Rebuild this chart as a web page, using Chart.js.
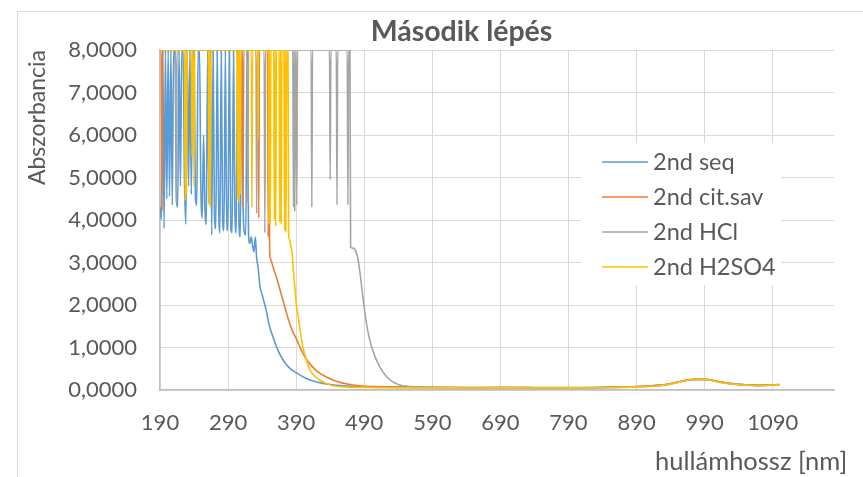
<!DOCTYPE html>
<html>
<head>
<meta charset="utf-8">
<title>Második lépés</title>
<script src="https://cdn.jsdelivr.net/npm/chart.js"></script>
<style>
  html, body { margin: 0; padding: 0; background: #fff; }
</style>
</head>
<body>
<canvas id="chart" width="863" height="477"></canvas>
<script>
// Második lépés - absorbance spectra
const chartTitle = 'Második lépés';
const xTitle = 'hullámhossz [nm]';
const yTitle = 'Abszorbancia';
const seriesNames = ['2nd seq', '2nd cit.sav', '2nd HCl', '2nd H2SO4'];
const seriesColors = ['#5B9BD5', '#ED7D31', '#A5A5A5', '#FFC000'];
const xTicks = [190, 290, 390, 490, 590, 690, 790, 890, 990, 1090];
const yTicks = [0, 1, 2, 3, 4, 5, 6, 7, 8];

// 2nd seq
const seqX = [190, 192, 194, 196, 198, 200, 202, 204, 206, 208, 210, 212, 214, 216, 218, 220, 222, 224, 226, 228,
  230, 232, 234, 236, 238, 240, 242, 244, 246, 248, 250, 252, 254, 256, 258, 260, 262, 264, 266, 268,
  270, 272, 274, 276, 278, 280, 282, 284, 286, 288, 290, 292, 294, 296, 298, 300, 302, 304, 306, 308,
  310, 312, 314, 316, 318, 320, 322, 324, 326, 328, 330,
  332, 334, 337, 340, 344, 347, 350, 356, 362, 371, 380, 391, 405, 420, 440, 470, 500, 550, 600, 650,
  700, 750, 800, 850, 900, 930, 950, 965, 980, 995, 1010, 1030, 1050, 1070, 1085, 1100];
const seqY = [4.3, 4.0, 8, 3.8, 8, 4.5, 8, 4.55, 8, 4.35, 8, 8, 4.65, 4.3, 8, 4.8, 8, 8, 4.9, 3.9,
  8, 4.8, 8, 4.6, 8, 8, 4.5, 4.35, 8, 8, 4.8, 4.05, 6.0, 4.3, 3.9, 8, 4.4, 8, 3.65, 8,
  4.1, 3.8, 8, 4.5, 3.7, 8, 4.0, 3.75, 8, 3.75, 4.3, 8, 3.8, 3.7, 8, 4.2, 3.7, 8, 3.9, 3.6,
  8, 4.4, 3.7, 3.65, 8, 3.7, 3.45, 3.6, 3.4, 3.25, 3.6,
  3.1, 2.9, 2.42, 2.25, 2.0, 1.8, 1.55, 1.25, 0.98, 0.7, 0.52, 0.4, 0.27, 0.19, 0.13, 0.09, 0.08, 0.07, 0.06, 0.06,
  0.06, 0.06, 0.06, 0.07, 0.09, 0.12, 0.18, 0.23, 0.25, 0.24, 0.2, 0.15, 0.12, 0.11, 0.12, 0.13];

// 2nd cit.sav
const citX = [190, 192, 193, 194, 250, 311, 312, 313, 334, 335, 336, 348, 349, 350, 351, 352, 355, 358, 362, 369,
  376, 383, 391, 398, 406, 420, 435, 450, 465, 490, 520, 560, 600, 650, 700, 750, 800, 850, 900, 930,
  950, 965, 980, 995, 1010, 1030, 1050, 1070, 1085, 1100];
const citY = [8, 8, 4.2, 8, 8, 8, 4.3, 8, 8, 4.05, 8, 8, 3.6, 8, 3.3, 3.1, 2.95, 2.8, 2.6, 2.2,
  1.8, 1.45, 1.18, 0.92, 0.7, 0.45, 0.3, 0.2, 0.14, 0.09, 0.07, 0.06, 0.06, 0.05, 0.06, 0.05, 0.05, 0.06, 0.09, 0.12,
  0.19, 0.24, 0.26, 0.25, 0.2, 0.15, 0.12, 0.11, 0.12, 0.13];

// 2nd HCl
const hclX = [190, 213, 214, 215, 318, 319, 320, 331, 332, 333, 343, 344, 345, 385, 386, 387, 388, 389, 390, 391,
  392, 412, 413, 414, 439, 440, 441, 449, 450, 451, 465, 466, 467, 469, 470, 473, 478, 481, 485, 488,
  492, 498, 506, 513, 522, 532, 542, 553, 580, 620, 660, 700, 750, 800, 850, 900, 930, 950, 965, 980,
  995, 1010, 1030, 1050, 1070, 1085, 1100];
const hclY = [8, 8, 4.4, 8, 8, 4.4, 8, 8, 4.15, 8, 8, 3.7, 8, 8, 4.3, 8, 4.2, 8, 8, 4.35,
  8, 8, 4.3, 8, 8, 4.95, 8, 8, 4.35, 8, 8, 4.35, 8, 8, 3.36, 3.34, 3.25, 3.06, 2.6, 2.19,
  1.7, 1.18, 0.78, 0.54, 0.33, 0.19, 0.12, 0.09, 0.07, 0.06, 0.06, 0.06, 0.05, 0.05, 0.06, 0.08, 0.11, 0.18, 0.23, 0.25,
  0.24, 0.19, 0.14, 0.12, 0.1, 0.11, 0.12];

// 2nd H2SO4
const h2so4X = [190, 226, 227, 228, 229, 230, 236, 237, 238, 239, 240, 241, 261, 262, 263, 264, 265, 303, 304, 305,
  306, 307, 308, 309, 324, 325, 326, 333, 334, 335, 349, 350, 351, 352, 353, 357, 358, 359, 360, 361,
  365, 366, 367, 368, 369, 372, 373, 374, 375, 376, 378, 379, 380, 382, 384, 386, 388, 390, 393, 396,
  400, 405, 410, 417, 425, 435, 444, 460, 500, 550, 600, 650, 700, 750, 800, 850, 900, 930, 950, 965,
  980, 995, 1010, 1030, 1050, 1070, 1085, 1100];
const h2so4Y = [8, 8, 4.45, 8, 4.6, 8, 8, 5.5, 8, 8, 4.8, 8, 8, 4.35, 8, 4.3, 8, 8, 4.5, 8,
  4.4, 8, 4.6, 8, 8, 4.3, 8, 8, 5.9, 8, 8, 3.9, 8, 3.95, 8, 8, 4.0, 8, 3.85, 8,
  8, 3.95, 8, 3.9, 8, 8, 3.75, 8, 3.7, 8, 8, 3.6, 3.55, 3.4, 3.22, 2.8, 2.42, 2.05, 1.72, 1.38,
  1.0, 0.72, 0.48, 0.33, 0.23, 0.15, 0.1, 0.07, 0.06, 0.05, 0.05, 0.05, 0.05, 0.05, 0.05, 0.06, 0.08, 0.11, 0.18, 0.23,
  0.25, 0.24, 0.19, 0.14, 0.11, 0.1, 0.11, 0.12];

const textColor = '#595959';
const fontFamily = 'Lato, "Open Sans", sans-serif';

function toPoints(xs, ys) {
  return xs.map((x, i) => ({ x: x, y: ys[i] }));
}

const allX = [seqX, citX, hclX, h2so4X];
const allY = [seqY, citY, hclY, h2so4Y];

// later series sit on top, like in Excel
const datasets = seriesNames.map((name, i) => ({
  label: name,
  data: toPoints(allX[i], allY[i]),
  borderColor: seriesColors[i],
  backgroundColor: seriesColors[i],
  borderWidth: 1.6,
  pointRadius: 0,
  cubicInterpolationMode: 'monotone',
  order: seriesNames.length - i
}));

// chart border, title, x title and legend (Excel puts these off-centre)
const extras = {
  id: 'extras',
  beforeDraw(chart) {
    const ctx = chart.ctx;
    ctx.save();
    ctx.fillStyle = '#fff';
    ctx.fillRect(0, 0, chart.width, chart.height);
    ctx.strokeStyle = '#d9d9d9';
    ctx.lineWidth = 1;
    ctx.beginPath();
    ctx.moveTo(17.5, chart.height);
    ctx.lineTo(17.5, 11.5);
    ctx.lineTo(chart.width, 11.5);
    ctx.stroke();
    ctx.restore();
  },
  afterDraw(chart) {
    const ctx = chart.ctx;
    ctx.save();
    ctx.fillStyle = textColor;
    ctx.textBaseline = 'middle';

    ctx.font = 'bold 28.5px ' + fontFamily;
    ctx.textAlign = 'center';
    ctx.fillText(chartTitle, 461.5, 32);

    ctx.font = '25.5px ' + fontFamily;
    ctx.textAlign = 'left';
    ctx.fillText(xTitle, 655, 462);

    ctx.fillStyle = '#fff';
    ctx.fillRect(581, 143, 200, 142);
    ctx.font = '23.5px ' + fontFamily;
    chart.data.datasets.forEach((ds, i) => {
      const y = 162 + i * 35;
      ctx.strokeStyle = ds.borderColor;
      ctx.lineWidth = 1.5;
      ctx.beginPath();
      ctx.moveTo(602, y);
      ctx.lineTo(648, y);
      ctx.stroke();
      ctx.fillStyle = textColor;
      ctx.fillText(ds.label, 653, y);
    });
    ctx.restore();
  }
};

const ctx = document.getElementById('chart').getContext('2d');
const spectraChart = new Chart(ctx, {
  type: 'line',
  data: { datasets: datasets },
  plugins: [extras],
  options: {
    responsive: false,
    animation: false,
    layout: { padding: { left: 0, right: 29, top: 50, bottom: 0 } },
    plugins: {
      legend: { display: false },
      tooltip: { enabled: false },
      title: { display: false }
    },
    scales: {
      x: {
        type: 'linear',
        min: 190,
        max: 1180,
        afterBuildTicks: (scale) => { scale.ticks = xTicks.map(v => ({ value: v })); },
        afterFit: (scale) => { scale.height = 87; },
        grid: { color: '#d9d9d9', drawTicks: false },
        border: { color: '#bfbfbf', width: 1.5 },
        ticks: {
          color: textColor,
          font: { family: fontFamily, size: 22 },
          padding: 20,
          maxRotation: 0,
          autoSkip: false,
          callback: (v) => String(v)
        }
      },
      y: {
        min: 0,
        max: 8,
        afterBuildTicks: (scale) => { scale.ticks = yTicks.map(v => ({ value: v })); },
        afterFit: (scale) => { scale.width = 160; },
        grid: { color: '#d9d9d9', drawTicks: false },
        border: { color: '#bfbfbf', width: 1.5 },
        title: {
          display: true,
          text: yTitle,
          align: 'end',
          color: textColor,
          font: { family: fontFamily, size: 23 },
          padding: { top: 24, bottom: 0 }
        },
        ticks: {
          color: textColor,
          font: { family: fontFamily, size: 22 },
          padding: 23,
          callback: (v) => v.toFixed(4).replace('.', ',')
        }
      }
    }
  }
});
</script>
</body>
</html>
